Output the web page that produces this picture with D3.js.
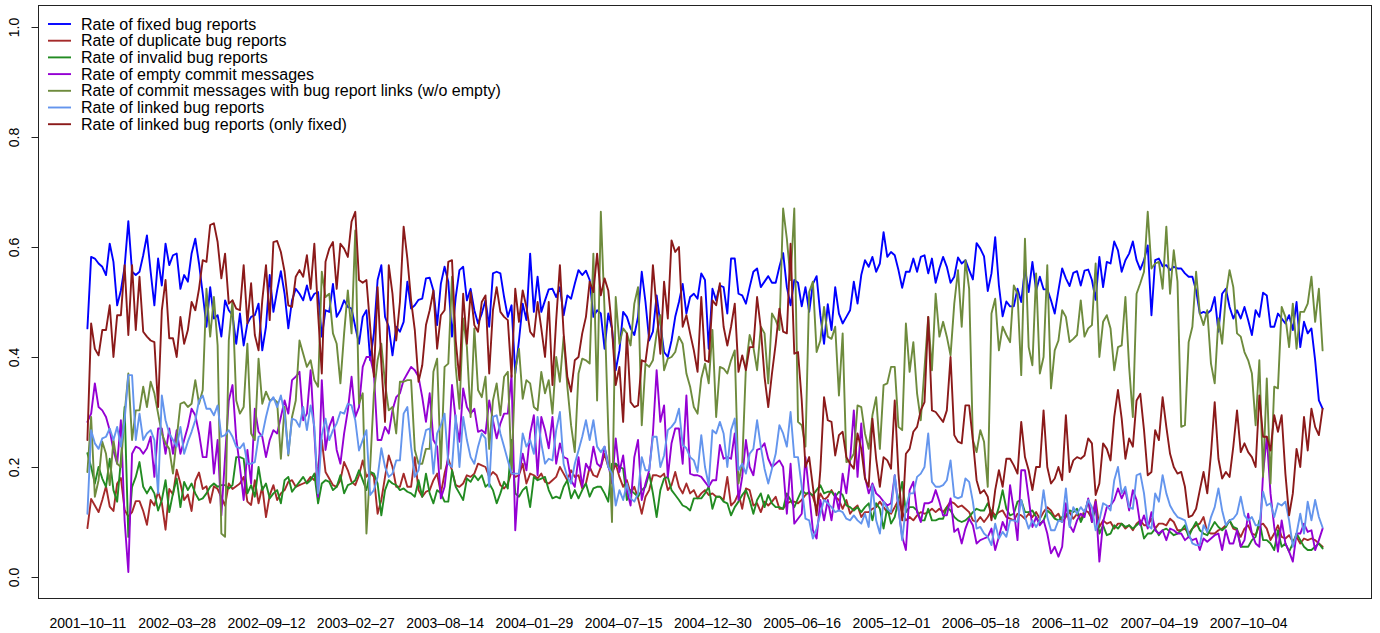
<!DOCTYPE html>
<html>
<head>
<meta charset="utf-8">
<script src="https://cdn.jsdelivr.net/npm/d3@7"></script>
<style>
  html, body { margin: 0; padding: 0; background: #fff; }
  svg { display: block; font-family: "Liberation Sans", Arial, Helvetica, sans-serif; }
</style>
</head>
<body>
<svg id="chart" width="1380" height="633"></svg>
<script>
// Weekly rates, one value per week starting 2001-10-11.
const fixedRate = [
  0.452,0.582,0.579,0.570,0.564,0.549,0.606,0.573,0.494,0.521,0.564,0.647,0.555,0.549,0.555,0.585,0.621,0.555,0.494,0.579,0.530,0.606,0.567,0.585,0.588,0.524,0.549,0.537,0.588,0.615,0.570,0.515,0.455,0.527,0.470,0.476,0.437,0.503,0.485,0.476,0.424,
  0.479,0.421,0.461,0.473,0.476,0.497,0.412,0.455,0.549,0.482,0.521,0.556,0.515,0.452,0.503,0.524,0.515,0.503,0.530,0.503,0.515,0.518,0.437,0.485,0.482,0.533,0.473,0.485,0.503,0.491,0.488,0.455,0.424,0.473,0.485,0.394,0.443,0.540,0.567,0.473,0.455,0.403,0.455,
  0.446,0.464,0.537,0.488,0.494,0.504,0.506,0.543,0.544,0.521,0.458,0.533,0.564,0.537,0.437,0.509,0.558,0.564,0.503,0.524,0.485,0.461,0.479,0.503,0.455,0.552,0.555,0.552,0.509,0.473,0.494,0.370,0.430,0.497,0.467,0.588,0.482,0.546,0.482,0.503,0.523,0.524,0.509,
  0.527,0.476,0.512,0.506,0.533,0.558,0.549,0.557,0.540,0.473,0.485,0.479,0.415,0.479,0.452,0.376,0.412,0.482,0.473,0.452,0.440,0.473,0.555,0.500,0.430,0.446,0.512,0.461,0.409,0.400,0.430,0.473,0.500,0.533,0.479,0.509,0.515,0.506,0.552,0.540,0.415,0.524,0.503,
  0.530,0.527,0.479,0.579,0.579,0.515,0.512,0.497,0.527,0.555,0.561,0.527,0.537,0.547,0.535,0.535,0.564,0.589,0.527,0.494,0.540,0.535,0.492,0.527,0.482,0.533,0.547,0.476,0.424,0.496,0.449,0.527,0.479,0.461,0.473,0.485,0.537,0.497,0.549,0.576,0.564,0.582,0.555,
  0.570,0.627,0.582,0.591,0.585,0.558,0.526,0.555,0.555,0.579,0.555,0.582,0.585,0.552,0.579,0.535,0.561,0.582,0.564,0.535,0.546,0.581,0.570,0.576,0.558,0.541,0.607,0.597,0.583,0.520,0.552,0.618,0.530,0.474,0.501,0.492,0.492,0.524,0.500,0.561,0.518,0.573,0.521,
  0.546,0.523,0.523,0.503,0.479,0.521,0.561,0.543,0.529,0.553,0.556,0.530,0.557,0.559,0.540,0.504,0.582,0.527,0.573,0.570,0.610,0.594,0.555,0.576,0.588,0.610,0.576,0.559,0.576,0.603,0.476,0.576,0.579,0.565,0.567,0.558,0.564,0.561,
  0.561,0.552,0.546,0.546,0.521,0.479,0.482,0.479,0.485,0.509,0.446,0.515,0.524,0.491,0.470,0.485,0.470,0.491,0.467,0.440,0.485,0.473,0.517,0.512,0.455,0.455,0.479,0.470,0.461,0.476,0.449,0.500,0.418,0.464,0.443,0.452,0.394,0.321,0.306
];
const duplicateRate = [
  0.089,0.142,0.130,0.118,0.140,0.165,0.128,0.120,0.170,0.180,0.122,0.110,0.118,0.138,0.138,0.120,0.095,0.140,0.130,0.155,0.135,0.086,0.160,0.150,0.195,0.170,0.140,0.150,0.120,0.175,0.190,0.160,0.165,0.135,0.165,0.160,0.145,0.130,0.170,0.160,0.165,
  0.170,0.182,0.137,0.131,0.176,0.134,0.164,0.109,0.149,0.167,0.140,0.152,0.158,0.173,0.176,0.164,0.167,0.170,0.173,0.182,0.176,0.200,0.249,0.191,0.179,0.167,0.164,0.176,0.209,0.194,0.173,0.167,0.185,0.212,0.182,0.191,0.182,0.115,0.140,0.182,0.221,0.200,0.164,
  0.164,0.188,0.164,0.164,0.218,0.158,0.146,0.155,0.158,0.176,0.188,0.152,0.188,0.215,0.194,0.167,0.164,0.170,0.185,0.182,0.188,0.206,0.203,0.200,0.182,0.191,0.185,0.167,0.161,0.170,0.191,0.182,0.185,0.206,0.170,0.188,0.185,0.179,0.188,0.173,0.170,0.176,0.182,
  0.200,0.188,0.176,0.194,0.182,0.185,0.161,0.170,0.200,0.185,0.182,0.200,0.224,0.200,0.188,0.206,0.182,0.164,0.176,0.152,0.164,0.143,0.115,0.146,0.158,0.185,0.185,0.182,0.188,0.158,0.167,0.191,0.164,0.152,0.170,0.152,0.158,0.143,0.152,0.158,0.149,0.152,0.146,
  0.146,0.140,0.182,0.130,0.137,0.152,0.124,0.161,0.158,0.130,0.134,0.118,0.137,0.130,0.137,0.146,0.124,0.124,0.134,0.137,0.137,0.134,0.140,0.149,0.155,0.146,0.124,0.152,0.140,0.146,0.158,0.146,0.140,0.124,0.140,0.115,0.124,0.130,0.109,0.118,0.118,0.124,0.127,
  0.137,0.127,0.118,0.115,0.127,0.140,0.118,0.103,0.109,0.103,0.112,0.118,0.115,0.118,0.124,0.118,0.124,0.118,0.127,0.137,0.134,0.127,0.130,0.124,0.118,0.103,0.100,0.109,0.100,0.109,0.121,0.112,0.118,0.121,0.109,0.106,0.103,0.115,0.112,0.106,0.115,0.109,0.118,
  0.106,0.118,0.127,0.121,0.109,0.115,0.100,0.109,0.118,0.106,0.115,0.103,0.121,0.118,0.106,0.140,0.091,0.103,0.097,0.100,0.088,0.097,0.097,0.088,0.094,0.085,0.097,0.103,0.094,0.094,0.106,0.088,0.097,0.097,0.094,0.106,0.100,0.085,
  0.085,0.088,0.079,0.088,0.094,0.097,0.109,0.082,0.079,0.079,0.085,0.088,0.094,0.103,0.088,0.085,0.073,0.088,0.094,0.079,0.076,0.094,0.097,0.088,0.067,0.079,0.094,0.073,0.070,0.076,0.064,0.073,0.061,0.070,0.067,0.070,0.067,0.061,0.055
];
const invalidRate = [
  0.225,0.200,0.170,0.200,0.179,0.164,0.215,0.158,0.137,0.212,0.309,0.073,0.164,0.182,0.209,0.164,0.152,0.164,0.152,0.121,0.140,0.176,0.118,0.152,0.179,0.127,0.173,0.158,0.170,0.152,0.140,0.143,0.152,0.164,0.170,0.164,0.167,0.167,0.161,0.167,0.218,
  0.218,0.215,0.152,0.167,0.146,0.200,0.158,0.170,0.143,0.152,0.158,0.134,0.176,0.182,0.155,0.164,0.173,0.182,0.170,0.176,0.188,0.134,0.170,0.176,0.173,0.158,0.164,0.185,0.152,0.167,0.170,0.176,0.194,0.176,0.158,0.191,0.188,0.170,0.112,0.158,0.176,0.170,0.167,
  0.158,0.161,0.155,0.152,0.146,0.176,0.146,0.188,0.152,0.134,0.158,0.152,0.137,0.137,0.194,0.164,0.152,0.140,0.179,0.173,0.185,0.176,0.185,0.164,0.170,0.158,0.134,0.152,0.173,0.161,0.249,0.152,0.146,0.158,0.164,0.127,0.182,0.176,0.179,0.182,0.158,0.143,0.146,
  0.143,0.164,0.176,0.143,0.158,0.143,0.158,0.170,0.146,0.161,0.164,0.164,0.152,0.137,0.206,0.206,0.200,0.197,0.140,0.158,0.152,0.146,0.158,0.164,0.188,0.152,0.109,0.158,0.179,0.182,0.158,0.149,0.140,0.130,0.127,0.121,0.143,0.143,0.143,0.152,0.164,0.124,0.146,
  0.146,0.137,0.134,0.112,0.127,0.137,0.149,0.158,0.140,0.115,0.140,0.152,0.127,0.149,0.134,0.127,0.127,0.124,0.152,0.140,0.127,0.143,0.158,0.152,0.152,0.149,0.158,0.167,0.152,0.155,0.155,0.146,0.155,0.149,0.130,0.127,0.121,0.127,0.118,0.127,0.134,0.103,0.134,
  0.124,0.088,0.127,0.097,0.109,0.140,0.173,0.118,0.127,0.127,0.121,0.103,0.103,0.124,0.103,0.103,0.106,0.106,0.127,0.121,0.109,0.103,0.100,0.103,0.109,0.118,0.124,0.121,0.121,0.134,0.118,0.106,0.127,0.158,0.124,0.112,0.115,0.137,0.140,0.118,0.118,0.121,0.109,
  0.097,0.103,0.121,0.115,0.106,0.103,0.109,0.112,0.121,0.118,0.124,0.100,0.115,0.140,0.100,0.127,0.079,0.094,0.076,0.079,0.094,0.088,0.097,0.091,0.094,0.088,0.094,0.100,0.070,0.079,0.079,0.088,0.076,0.085,0.088,0.082,0.076,0.079,
  0.085,0.094,0.073,0.088,0.100,0.085,0.079,0.076,0.088,0.100,0.091,0.085,0.091,0.103,0.091,0.088,0.055,0.055,0.055,0.067,0.073,0.103,0.067,0.067,0.061,0.049,0.085,0.055,0.061,0.046,0.061,0.079,0.067,0.055,0.049,0.049,0.055,0.061,0.052
];
const emptyCommitRate = [
  0.282,0.297,0.352,0.309,0.303,0.291,0.267,0.230,0.206,0.285,0.103,0.009,0.224,0.237,0.234,0.224,0.234,0.255,0.182,0.270,0.270,0.224,0.270,0.224,0.267,0.224,0.249,0.273,0.306,0.294,0.261,0.218,0.218,0.282,0.188,0.249,0.112,0.218,0.321,0.349,0.252,
  0.200,0.140,0.231,0.170,0.306,0.264,0.255,0.218,0.249,0.267,0.261,0.291,0.321,0.297,0.358,0.364,0.373,0.285,0.297,0.376,0.261,0.146,0.358,0.231,0.273,0.291,0.231,0.206,0.261,0.303,0.364,0.291,0.309,0.382,0.400,0.400,0.370,0.249,0.249,0.273,0.261,0.303,0.327,
  0.334,0.358,0.370,0.382,0.376,0.364,0.327,0.282,0.334,0.249,0.237,0.143,0.164,0.224,0.349,0.285,0.246,0.343,0.309,0.297,0.306,0.264,0.267,0.261,0.321,0.285,0.252,0.279,0.297,0.297,0.367,0.085,0.188,0.224,0.194,0.261,0.294,0.185,0.291,0.267,0.234,0.291,0.206,
  0.243,0.218,0.215,0.176,0.164,0.218,0.164,0.206,0.194,0.237,0.206,0.200,0.237,0.206,0.170,0.252,0.191,0.221,0.158,0.130,0.218,0.249,0.140,0.170,0.194,0.261,0.376,0.282,0.312,0.182,0.243,0.270,0.270,0.206,0.330,0.188,0.185,0.185,0.182,0.173,0.164,0.176,0.176,
  0.240,0.215,0.218,0.215,0.261,0.140,0.182,0.249,0.200,0.185,0.231,0.234,0.243,0.215,0.200,0.206,0.212,0.200,0.115,0.206,0.097,0.106,0.115,0.218,0.152,0.085,0.070,0.140,0.103,0.140,0.103,0.152,0.121,0.188,0.152,0.212,0.303,0.182,0.279,0.182,0.152,0.170,0.152,
  0.146,0.137,0.130,0.134,0.185,0.124,0.073,0.049,0.158,0.173,0.118,0.100,0.134,0.134,0.137,0.158,0.137,0.112,0.112,0.143,0.082,0.088,0.061,0.088,0.106,0.094,0.061,0.067,0.070,0.073,0.088,0.049,0.073,0.100,0.085,0.167,0.121,0.067,0.194,0.194,0.143,0.091,0.109,
  0.094,0.103,0.079,0.043,0.055,0.037,0.055,0.134,0.094,0.082,0.103,0.115,0.109,0.143,0.100,0.137,0.028,0.100,0.127,0.130,0.140,0.161,0.143,0.158,0.121,0.158,0.140,0.094,0.112,0.088,0.118,0.085,0.079,0.085,0.067,0.088,0.085,0.079,
  0.079,0.067,0.073,0.067,0.070,0.049,0.070,0.064,0.070,0.076,0.079,0.049,0.085,0.061,0.061,0.085,0.055,0.067,0.115,0.079,0.061,0.055,0.188,0.255,0.152,0.091,0.046,0.103,0.061,0.046,0.028,0.079,0.079,0.097,0.082,0.085,0.049,0.067,0.088
];
const linkedCommitRate = [
  0.191,0.291,0.146,0.176,0.246,0.224,0.167,0.249,0.206,0.200,0.297,0.370,0.249,0.303,0.303,0.346,0.309,0.355,0.334,0.297,0.261,0.243,0.233,0.188,0.252,0.315,0.318,0.309,0.315,0.358,0.315,0.340,0.524,0.437,0.509,0.421,0.079,0.073,0.430,0.503,0.321,
  0.297,0.309,0.424,0.261,0.249,0.397,0.315,0.337,0.321,0.324,0.318,0.215,0.309,0.221,0.291,0.321,0.430,0.406,0.382,0.394,0.358,0.346,0.555,0.509,0.515,0.443,0.424,0.352,0.443,0.521,0.443,0.630,0.315,0.334,0.079,0.200,0.334,0.394,0.424,0.352,0.303,0.309,0.261,
  0.355,0.355,0.358,0.358,0.231,0.206,0.206,0.233,0.233,0.373,0.397,0.197,0.382,0.388,0.546,0.382,0.306,0.470,0.418,0.291,0.452,0.340,0.327,0.364,0.233,0.321,0.352,0.294,0.364,0.373,0.194,0.376,0.415,0.324,0.358,0.352,0.309,0.303,0.373,0.334,0.358,0.297,0.400,
  0.355,0.437,0.346,0.276,0.227,0.370,0.397,0.394,0.388,0.588,0.321,0.664,0.485,0.267,0.100,0.509,0.424,0.452,0.443,0.421,0.497,0.527,0.276,0.388,0.382,0.394,0.443,0.476,0.376,0.397,0.400,0.409,0.437,0.424,0.370,0.346,0.309,0.297,0.361,0.388,0.352,0.449,0.291,
  0.382,0.379,0.370,0.394,0.412,0.170,0.206,0.382,0.440,0.418,0.376,0.455,0.443,0.352,0.479,0.467,0.449,0.670,0.615,0.540,0.670,0.282,0.276,0.237,0.518,0.537,0.409,0.430,0.491,0.437,0.433,0.455,0.330,0.443,0.209,0.212,0.224,0.312,0.309,0.261,0.233,0.294,0.327,
  0.233,0.349,0.352,0.382,0.382,0.273,0.267,0.461,0.373,0.427,0.334,0.285,0.379,0.473,0.376,0.515,0.437,0.464,0.437,0.403,0.497,0.558,0.455,0.576,0.524,0.249,0.227,0.267,0.246,0.164,0.479,0.506,0.412,0.455,0.440,0.427,0.530,0.515,0.367,0.615,0.418,0.385,0.552,
  0.370,0.400,0.567,0.343,0.412,0.430,0.485,0.473,0.427,0.433,0.440,0.503,0.437,0.452,0.458,0.570,0.400,0.464,0.476,0.452,0.376,0.418,0.421,0.509,0.382,0.291,0.515,0.534,0.555,0.664,0.561,0.570,0.573,0.524,0.637,0.515,0.594,0.537,
  0.273,0.276,0.427,0.455,0.555,0.479,0.458,0.485,0.388,0.352,0.470,0.424,0.512,0.558,0.527,0.443,0.437,0.409,0.394,0.370,0.276,0.394,0.182,0.361,0.170,0.346,0.343,0.491,0.473,0.418,0.497,0.415,0.482,0.482,0.497,0.546,0.464,0.524,0.412
];
const linkedBugRate = [
  0.115,0.267,0.243,0.233,0.252,0.255,0.270,0.249,0.273,0.237,0.285,0.367,0.367,0.249,0.297,0.249,0.261,0.267,0.249,0.152,0.330,0.285,0.261,0.249,0.237,0.273,0.224,0.246,0.264,0.285,0.321,0.330,0.306,0.306,0.294,0.312,0.255,0.258,0.267,0.255,0.237,
  0.234,0.243,0.206,0.206,0.209,0.255,0.258,0.291,0.318,0.327,0.309,0.330,0.297,0.224,0.288,0.285,0.273,0.309,0.267,0.312,0.273,0.152,0.258,0.288,0.249,0.267,0.279,0.300,0.297,0.315,0.312,0.285,0.230,0.249,0.267,0.149,0.158,0.182,0.234,0.200,0.182,0.188,0.212,
  0.212,0.297,0.309,0.237,0.182,0.194,0.237,0.267,0.270,0.188,0.261,0.276,0.297,0.206,0.200,0.294,0.200,0.291,0.249,0.218,0.206,0.237,0.261,0.252,0.164,0.291,0.294,0.261,0.237,0.212,0.188,0.188,0.188,0.261,0.237,0.249,0.224,0.291,0.243,0.206,0.215,0.212,0.267,
  0.300,0.206,0.182,0.170,0.206,0.230,0.255,0.285,0.249,0.285,0.237,0.227,0.237,0.200,0.188,0.130,0.158,0.140,0.170,0.143,0.137,0.152,0.218,0.194,0.194,0.255,0.255,0.200,0.221,0.267,0.273,0.282,0.306,0.240,0.234,0.218,0.212,0.191,0.258,0.200,0.167,0.267,0.261,
  0.282,0.261,0.200,0.267,0.288,0.194,0.206,0.188,0.224,0.233,0.285,0.237,0.197,0.170,0.197,0.224,0.276,0.261,0.237,0.300,0.218,0.218,0.164,0.106,0.103,0.070,0.088,0.115,0.140,0.134,0.127,0.118,0.121,0.118,0.106,0.103,0.112,0.103,0.097,0.115,0.091,0.167,0.103,
  0.079,0.137,0.124,0.118,0.185,0.127,0.067,0.127,0.152,0.152,0.182,0.188,0.200,0.261,0.173,0.164,0.164,0.167,0.176,0.212,0.146,0.143,0.146,0.179,0.173,0.137,0.088,0.091,0.079,0.073,0.058,0.097,0.070,0.082,0.073,0.103,0.103,0.100,0.140,0.109,0.088,0.103,0.091,
  0.103,0.158,0.109,0.085,0.085,0.103,0.100,0.161,0.091,0.127,0.115,0.127,0.118,0.140,0.127,0.085,0.103,0.134,0.130,0.121,0.176,0.200,0.152,0.164,0.127,0.124,0.185,0.188,0.152,0.094,0.088,0.152,0.137,0.185,0.152,0.130,0.118,0.109,
  0.106,0.103,0.079,0.061,0.058,0.058,0.094,0.082,0.109,0.127,0.161,0.121,0.094,0.103,0.106,0.115,0.146,0.112,0.103,0.109,0.094,0.094,0.155,0.130,0.134,0.109,0.134,0.130,0.137,0.103,0.055,0.079,0.115,0.079,0.137,0.103,0.140,0.109,0.090
];
const linkedFixedRate = [
  0.249,0.461,0.415,0.403,0.449,0.449,0.494,0.400,0.476,0.476,0.567,0.440,0.567,0.449,0.546,0.446,0.437,0.430,0.427,0.309,0.485,0.540,0.434,0.434,0.400,0.473,0.424,0.449,0.500,0.485,0.524,0.576,0.573,0.640,0.643,0.609,0.543,0.588,0.497,0.503,0.488,
  0.485,0.567,0.461,0.534,0.440,0.412,0.503,0.567,0.467,0.609,0.611,0.591,0.555,0.494,0.491,0.546,0.558,0.546,0.585,0.524,0.606,0.479,0.370,0.573,0.597,0.609,0.524,0.606,0.597,0.582,0.646,0.664,0.540,0.535,0.540,0.455,0.364,0.527,0.388,0.282,0.567,0.515,0.430,
  0.500,0.637,0.579,0.503,0.449,0.355,0.385,0.458,0.485,0.521,0.415,0.476,0.485,0.573,0.576,0.430,0.358,0.515,0.424,0.518,0.458,0.446,0.500,0.512,0.370,0.485,0.527,0.482,0.473,0.467,0.364,0.524,0.464,0.521,0.491,0.446,0.437,0.500,0.452,0.400,0.500,0.349,0.467,
  0.567,0.443,0.364,0.337,0.394,0.400,0.443,0.473,0.537,0.518,0.588,0.512,0.543,0.521,0.452,0.349,0.382,0.282,0.443,0.318,0.309,0.312,0.394,0.391,0.443,0.567,0.488,0.406,0.537,0.470,0.612,0.591,0.600,0.455,0.476,0.443,0.412,0.373,0.509,0.394,0.391,0.503,0.494,
  0.534,0.455,0.421,0.455,0.497,0.373,0.403,0.376,0.418,0.418,0.509,0.452,0.364,0.309,0.370,0.424,0.488,0.446,0.443,0.606,0.406,0.409,0.321,0.200,0.218,0.164,0.112,0.194,0.327,0.285,0.282,0.221,0.258,0.264,0.218,0.206,0.197,0.261,0.233,0.179,0.164,0.288,0.215,
  0.164,0.218,0.212,0.197,0.321,0.188,0.103,0.224,0.233,0.264,0.273,0.303,0.318,0.473,0.303,0.300,0.291,0.282,0.303,0.400,0.258,0.246,0.243,0.312,0.312,0.249,0.176,0.152,0.158,0.146,0.103,0.158,0.194,0.164,0.215,0.215,0.203,0.188,0.282,0.218,0.194,0.158,0.200,
  0.200,0.303,0.200,0.170,0.179,0.200,0.176,0.294,0.191,0.212,0.218,0.215,0.221,0.252,0.243,0.149,0.170,0.243,0.233,0.212,0.291,0.340,0.288,0.215,0.252,0.237,0.321,0.333,0.267,0.185,0.191,0.267,0.249,0.327,0.273,0.224,0.200,0.188,
  0.191,0.164,0.109,0.112,0.124,0.158,0.191,0.152,0.224,0.318,0.215,0.179,0.191,0.182,0.237,0.303,0.227,0.243,0.227,0.218,0.200,0.330,0.255,0.255,0.230,0.294,0.264,0.294,0.188,0.112,0.152,0.233,0.200,0.291,0.230,0.306,0.273,0.258,0.306
];

const seriesNames = [
  "Rate of fixed bug reports",
  "Rate of duplicate bug reports",
  "Rate of invalid bug reports",
  "Rate of empty commit messages",
  "Rate of commit messages with bug report links (w/o empty)",
  "Rate of linked bug reports",
  "Rate of linked bug reports (only fixed)"
];
const seriesValues = [fixedRate, duplicateRate, invalidRate, emptyCommitRate, linkedCommitRate, linkedBugRate, linkedFixedRate];

// Week labels shown every 24 weeks along the bottom.
const tickLabels = ["2001-10-11","2002-03-28","2002-09-12","2003-02-27","2003-08-14","2004-01-29","2004-07-15",
                    "2004-12-30","2005-06-16","2005-12-01","2006-05-18","2006-11-02","2007-04-19","2007-10-04"];
const tickStep = 24;
const yTicks = [0, 0.2, 0.4, 0.6, 0.8, 1.0];

// Styling
const colors = ["#0000FF", "#A52A2A", "#228B22", "#9400D3", "#6E8B3D", "#6495ED", "#8B1A1A"];
const box = { left: 38, right: 1372, top: 5, bottom: 599 };

const svg = d3.select("#chart");
const n = fixedRate.length;
const padX = (n - 1) * 0.04;

const x = d3.scaleLinear().domain([-padX, (n - 1) + padX]).range([box.left, box.right]);
const y = d3.scaleLinear().domain([-0.04, 1.04]).range([box.bottom, box.top]);

// series lines, drawn in legend order
const line = d3.line().x((d, i) => x(i)).y(d => y(d));
svg.append("g").selectAll("path")
  .data(seriesValues)
  .join("path")
  .attr("d", d => line(d))
  .attr("fill", "none")
  .attr("stroke", (d, i) => colors[i])
  .attr("stroke-width", 1.9)
  .attr("stroke-linejoin", "round")
  .attr("stroke-linecap", "round");

// plot frame
svg.append("rect")
  .attr("x", box.left + 0.5).attr("y", box.top + 0.5)
  .attr("width", box.right - box.left - 1).attr("height", box.bottom - box.top - 1)
  .attr("fill", "none").attr("stroke", "#222").attr("stroke-width", 1);

// y axis: outward ticks with rotated labels
const yAxis = d3.axisLeft(y).tickValues(yTicks).tickSize(7).tickFormat(d3.format(".1f"));
const gy = svg.append("g").attr("transform", `translate(${box.left + 0.5},0)`).call(yAxis);
gy.select(".domain").attr("stroke", "none");
gy.selectAll(".tick line").attr("stroke", "#222");
gy.selectAll(".tick text")
  .attr("x", null).attr("dy", null)
  .attr("text-anchor", "middle")
  .attr("transform", "translate(-20,0) rotate(-90)")
  .attr("font-size", 14)
  .attr("font-family", "Liberation Sans, Arial, sans-serif")
  .attr("fill", "#000");

// x labels (no axis line), dashes rendered as en dashes
const xAxis = d3.axisBottom(x)
  .tickValues(tickLabels.map((d, k) => k * tickStep))
  .tickSize(0)
  .tickFormat((d, k) => tickLabels[k].replace(/-/g, "\u2013"));
const gx = svg.append("g").attr("transform", `translate(0,${box.bottom})`).call(xAxis);
gx.select(".domain").remove();
gx.selectAll(".tick text")
  .attr("y", 29).attr("dy", null)
  .attr("font-size", 14)
  .attr("font-family", "Liberation Sans, Arial, sans-serif")
  .attr("fill", "#000");

// legend
const legend = svg.append("g");
const rowH = 16.7, firstRow = 24;
seriesNames.forEach((name, i) => {
  const yy = firstRow + i * rowH;
  legend.append("line")
    .attr("x1", 48).attr("x2", 71).attr("y1", yy).attr("y2", yy)
    .attr("stroke", colors[i]).attr("stroke-width", 1.9);
  legend.append("text")
    .attr("x", 81).attr("y", yy + 5.5)
    .attr("font-size", 16)
    .attr("fill", "#000")
    .text(name);
});
</script>
</body>
</html>
